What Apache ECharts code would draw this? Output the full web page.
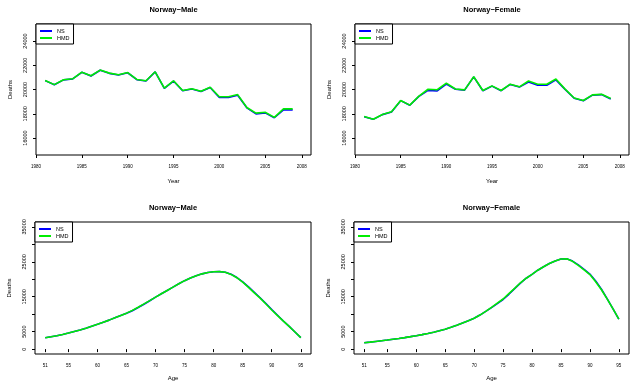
<!DOCTYPE html>
<html><head><meta charset="utf-8">
<script src="https://cdn.jsdelivr.net/npm/echarts@6/dist/echarts.min.js"></script>
<style>html,body{margin:0;padding:0;background:#fff}#c{width:630px;height:386px}</style>
</head><body><div id="c"></div><script>
// ---- data ----
const years = [1981,1982,1983,1984,1985,1986,1987,1988,1989,1990,1991,1992,1993,1994,1995,1996,1997,1998,1999,2000,2001,2002,2003,2004,2005,2006,2007,2008];
const maleYearNS  = [20730,20390,20790,20870,21420,21110,21590,21330,21190,21380,20810,20700,21450,20090,20700,19900,20040,19840,20170,19340,19340,19530,18490,17990,18070,17670,18320,18320];
const maleYearHMD = [20750,20400,20800,20880,21430,21130,21600,21350,21210,21400,20830,20720,21460,20110,20720,19920,20060,19860,20190,19400,19400,19580,18520,18050,18120,17700,18400,18400];
const femaleYearNS  = [17760,17540,17930,18150,19080,18700,19430,19930,19880,20440,20020,19950,21040,19900,20280,19900,20420,20200,20620,20350,20350,20790,20010,19280,19070,19540,19580,19220];
const femaleYearHMD = [17770,17550,17940,18160,19090,18710,19450,20020,19980,20520,20040,19970,21050,19920,20300,19920,20440,20220,20700,20430,20430,20860,20030,19300,19090,19560,19600,19260];

const ages = [51,52,53,54,55,56,57,58,59,60,61,62,63,64,65,66,67,68,69,70,71,72,73,74,75,76,77,78,79,80,81,82,83,84,85,86,87,88,89,90,91,92,93,94,95];
const maleAgeNS  = [3270,3550,3850,4200,4600,5050,5500,6000,6550,7100,7700,8300,8950,9600,10250,11000,11900,12850,13850,14900,15850,16800,17750,18700,19600,20350,21000,21550,21950,22150,22200,22000,21450,20500,19250,17800,16250,14700,13050,11350,9700,8050,6500,4900,3300];
const maleAgeHMD = [3270,3550,3850,4200,4600,5050,5500,6000,6550,7100,7700,8300,8950,9600,10300,11100,12000,12950,13900,14900,15850,16800,17750,18700,19600,20350,21000,21550,21950,22150,22200,22000,21400,20450,19200,17700,16100,14600,12900,11200,9600,8000,6500,4900,3300];
const femaleAgeNS  = [1830,2000,2200,2400,2600,2830,3050,3300,3570,3850,4150,4480,4850,5250,5700,6250,6850,7500,8150,8850,9750,10800,11900,13050,14200,15700,17300,18900,20300,21400,22600,23600,24500,25250,25800,25850,25200,24100,22850,21500,19500,17150,14400,11550,8600];
const femaleAgeHMD = [1830,2000,2200,2400,2600,2830,3050,3300,3570,3850,4150,4480,4850,5250,5700,6250,6850,7500,8150,8850,9750,10800,11950,13150,14350,15900,17400,19000,20300,21400,22600,23600,24500,25250,25800,25850,25150,24000,22700,21350,19300,17000,14300,11500,8600];

const yearTicks = [1980,1985,1990,1995,2000,2005,2009];
const yearTickLabels = ['1980','1985','1990','1995','2000','2005','2008'];
const ageTicks = [51,55,60,65,70,75,80,85,90,95];
const deathTicksTop = [16000,18000,20000,22000,24000];
const deathTicksBottom = [0,5000,10000,15000,20000,25000,30000,35000];
const deathLabelsBottom = [0,5000,15000,25000,35000];
const titles = ['Norway\u2212Male','Norway\u2212Female','Norway\u2212Male','Norway\u2212Female'];
const seriesNames = ['NS','HMD'];

// ---- layout ----
const FONT = '"Liberation Sans", Arial, Helvetica, sans-serif';
const grids = [
  {left:36, top:24, width:275, height:131},
  {left:355, top:24, width:274, height:131},
  {left:35, top:222, width:276, height:132},
  {left:354, top:222, width:275, height:132}
];
const colors = ['#0000ff','#00ee00'];

function xAxisFor(i){
  const top = i < 2;
  const ticks = top ? yearTicks : ageTicks;
  return {
    gridIndex:i, type:'value',
    min: top ? 1980 : 49.24, max: top ? 2010 : 96.76,
    axisLine:{show:false}, splitLine:{show:false},
    axisTick:{show:true, customValues:ticks, length:3, lineStyle:{color:'#000', width:1}},
    axisLabel:{show:true, customValues:ticks, fontSize:4.5, margin:9, color:'#000', fontFamily:FONT,
      formatter: v => top ? yearTickLabels[yearTicks.indexOf(v)] : String(v)},
    name: top ? 'Year' : 'Age', nameLocation:'middle', nameGap: top ? 23 : 21,
    nameTextStyle:{fontSize:6, color:'#000', fontFamily:FONT}
  };
}
function yAxisFor(i){
  const top = i < 2;
  return {
    gridIndex:i, type:'value',
    min: top ? 14600 : -1400, max: top ? 25400 : 36400,
    axisLine:{show:false}, splitLine:{show:false},
    axisTick:{show:true, customValues: top ? deathTicksTop : deathTicksBottom, length:3, lineStyle:{color:'#000', width:1}},
    axisLabel:{show:true, customValues: top ? deathTicksTop : deathLabelsBottom, rotate:90, fontSize:5.5, margin:8, color:'#000', fontFamily:FONT,
      formatter: v => String(v)},
    name:'Deaths', nameLocation:'middle', nameGap:23, nameRotate:90,
    nameTextStyle:{fontSize:6, color:'#000', fontFamily:FONT}
  };
}
const panelData = [
  [years, maleYearNS, maleYearHMD],
  [years, femaleYearNS, femaleYearHMD],
  [ages, maleAgeNS, maleAgeHMD],
  [ages, femaleAgeNS, femaleAgeHMD]
];
const series = [];
panelData.forEach((p, i) => {
  [p[1], p[2]].forEach((vals, k) => {
    series.push({
      name: seriesNames[k], type:'line', xAxisIndex:i, yAxisIndex:i,
      data: p[0].map((x, j) => [x, vals[j]]),
      symbol:'none', silent:true,
      lineStyle:{color:colors[k], width:1.6},
      itemStyle:{color:colors[k]}
    });
  });
});
const titleGraphics = grids.map((g, i) => ({
  type:'text', x: g.left + g.width/2, y: i < 2 ? 9.5 : 208,
  style:{text:titles[i], fill:'#000', font:'bold 7.5px ' + FONT, textAlign:'center', textVerticalAlign:'middle'}
}));
const option = {
  animation:false,
  backgroundColor:'#fff',
  grid: grids.map(g => Object.assign({show:true, borderColor:'#000', borderWidth:1, backgroundColor:'transparent', containLabel:false, outerBoundsMode:'none'}, g)),
  xAxis: grids.map((g,i) => xAxisFor(i)),
  yAxis: grids.map((g,i) => yAxisFor(i)),
  legend: grids.map(g => ({
    left:g.left, top:g.top, orient:'vertical', data:seriesNames, icon:'rect',
    itemWidth:12, itemHeight:2, itemGap:1, padding:[4,4,3,4],
    borderColor:'#000', borderWidth:1, backgroundColor:'#fff', borderRadius:0,
    selectedMode:false,
    textStyle:{fontSize:5.5, color:'#000', fontFamily:FONT}
  })),
  graphic: titleGraphics,
  series
};
const chart = echarts.init(document.getElementById('c'), null, {renderer:'canvas'});
chart.setOption(option);
</script></body></html>
